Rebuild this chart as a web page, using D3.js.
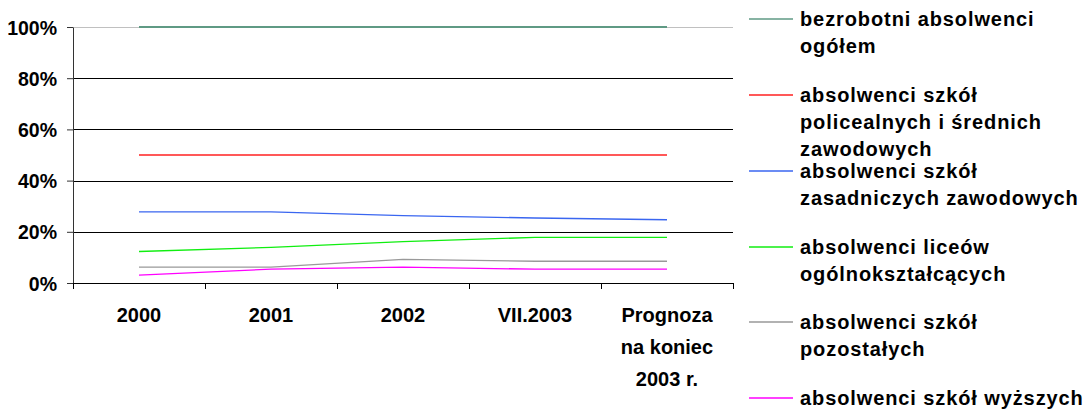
<!DOCTYPE html>
<html>
<head>
<meta charset="utf-8">
<script src="https://cdn.jsdelivr.net/npm/d3@7"></script>
<style>
  body { margin: 0; background: #fff; }
  text { font-family: "Liberation Sans", Arial, sans-serif; font-weight: bold; fill: #000; }
</style>
</head>
<body>
<div id="container"></div>
<script>
// categories and series (shares in %)
var categories = ["2000", "2001", "2002", "VII.2003", "Prognoza na koniec 2003 r."];
var categoryLines = [["2000"], ["2001"], ["2002"], ["VII.2003"], ["Prognoza", "na koniec", "2003 r."]];
var yTicks = [0, 20, 40, 60, 80, 100];

var ogolem = [100, 100, 100, 100, 100];
var policealne = [50, 50, 50, 50, 50];
var zasadnicze = [27.8, 27.8, 26.3, 25.4, 24.7];
var licea = [12.3, 13.9, 16.2, 17.8, 17.8];
var pozostale = [6.2, 6.2, 9.2, 8.5, 8.5];
var wyzsze = [3.1, 5.4, 6.2, 5.4, 5.4];

var seriesNames = [
  ["bezrobotni absolwenci", "ogółem"],
  ["absolwenci szkół", "policealnych i średnich", "zawodowych"],
  ["absolwenci szkół", "zasadniczych zawodowych"],
  ["absolwenci liceów", "ogólnokształcących"],
  ["absolwenci szkół", "pozostałych"],
  ["absolwenci szkół wyższych"]
];
var seriesValues = [ogolem, policealne, zasadnicze, licea, pozostale, wyzsze];
var seriesColors = ["#5f9a84", "#ff2020", "#3a66f0", "#10ee10", "#999999", "#ff00ff"];

var W = 1088, H = 410;
var margin = {top: 27, left: 73},
    width = 660,
    height = 256;

var svg = d3.select("#container")
  .append("svg")
    .attr("width", W)
    .attr("height", H);

var g = svg.append("g")
    .attr("transform", "translate(" + margin.left + "," + margin.top + ")");

var x = d3.scaleBand()
  .domain(categories)
  .range([0, width]);

var y = d3.scaleLinear()
  .domain([0, 100])
  .range([height, 0]);

// gridlines
g.selectAll(".grid")
  .data(yTicks.filter(function (d) { return d > 0; }))
  .enter()
  .append("line")
    .attr("x1", 0)
    .attr("x2", width)
    .attr("y1", function (d) { return Math.round(y(d)) + 0.5; })
    .attr("y2", function (d) { return Math.round(y(d)) + 0.5; })
    .attr("stroke", function (d) { return d === 100 ? "#c0c0c0" : "#000"; })
    .attr("stroke-width", 1);

// Y axis
var yAxis = g.append("g")
  .call(d3.axisLeft(y).tickValues(yTicks).tickSize(6).tickFormat(function (d) { return d + "%"; }));
yAxis.select(".domain").attr("stroke", "#333").attr("d", "M0.5," + (height + 0.5) + "V0.5");
yAxis.selectAll(".tick line").attr("stroke", "#333");
yAxis.selectAll(".tick text")
  .attr("x", -16)
  .attr("dy", "0.36em")
  .style("font-size", "19.5px")
  .style("font-family", "'Liberation Sans', Arial, sans-serif")
  .style("font-weight", "bold");

// X axis
var xAxis = g.append("g")
  .attr("transform", "translate(0," + height + ")")
  .call(d3.axisBottom(x).tickSize(0).tickFormat(""));
xAxis.select(".domain").attr("stroke", "#000").attr("d", "M0.5,0.5H" + (width + 0.5));
xAxis.selectAll(".tick").remove();

var bounds = categories.map(function (c) { return x(c); }).concat([width]);
xAxis.selectAll(".xtick")
  .data(bounds)
  .enter()
  .append("line")
    .attr("x1", function (d) { return Math.round(d) + 0.5; })
    .attr("x2", function (d) { return Math.round(d) + 0.5; })
    .attr("y1", 0)
    .attr("y2", 6)
    .attr("stroke", "#000");

var xLabels = xAxis.selectAll(".xlab")
  .data(categories)
  .enter()
  .append("text")
    .attr("text-anchor", "middle")
    .attr("x", function (d) { return x(d) + x.bandwidth() / 2; })
    .style("font-size", "20px");
xLabels.each(function (d, i) {
  var t = d3.select(this);
  categoryLines[i].forEach(function (line, j) {
    t.append("tspan")
      .attr("x", x(d) + x.bandwidth() / 2)
      .attr("y", 39 + j * 32)
      .text(line);
  });
});

// lines
var line = d3.line()
  .x(function (d, i) { return x(categories[i]) + x.bandwidth() / 2; })
  .y(function (d) { return y(d); });

g.selectAll(".series")
  .data(seriesValues)
  .enter()
  .append("path")
    .attr("fill", "none")
    .attr("stroke", function (d, i) { return seriesColors[i]; })
    .attr("stroke-width", function (d, i) { return i === 0 ? 2 : 1.3; })
    .attr("d", line);

// legend
var legendY = [19, 95, 171, 247, 322, 398];
var legend = svg.selectAll(".legend")
  .data(seriesNames)
  .enter()
  .append("g")
    .attr("transform", function (d, i) { return "translate(749," + legendY[i] + ")"; });

legend.each(function (d, i) {
  d3.select(this).append("line")
    .attr("x1", 0)
    .attr("x2", 44)
    .attr("y1", 0)
    .attr("y2", 0)
    .attr("stroke", seriesColors[i])
    .attr("stroke-width", 1.5);
});

legend.append("text")
  .style("font-size", "20px")
  .style("letter-spacing", "0.9px")
  .each(function (d) {
    var t = d3.select(this);
    d.forEach(function (s, j) {
      t.append("tspan")
        .attr("x", 51)
        .attr("y", 7 + j * 27)
        .text(s);
    });
  });
</script>
</body>
</html>
